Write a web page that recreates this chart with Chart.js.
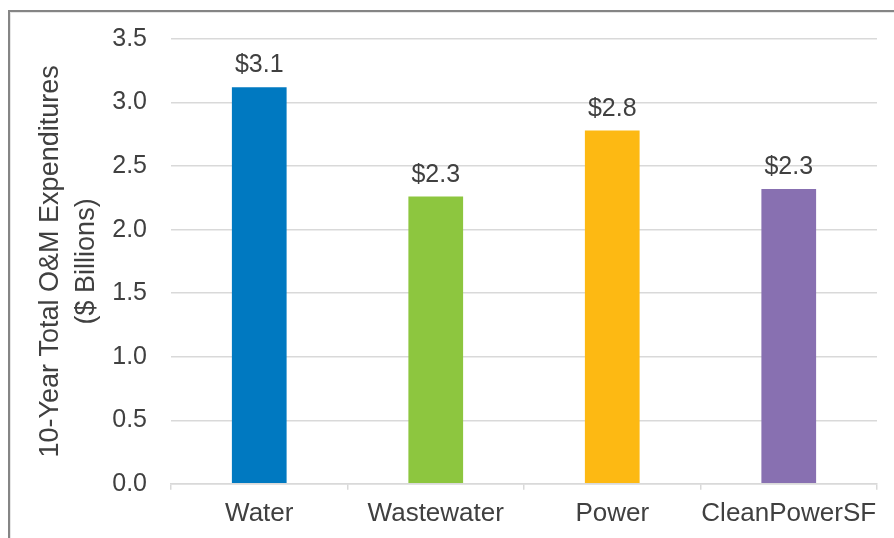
<!DOCTYPE html>
<html>
<head>
<meta charset="utf-8">
<script src="https://cdn.jsdelivr.net/npm/chart.js@4/dist/chart.umd.min.js"></script>
<style>
  html, body { margin: 0; padding: 0; background: #fff; overflow: hidden; }
  #wrap { position: relative; width: 894px; height: 538px; }
  #frame { position: absolute; left: 8px; top: 10px; width: 2000px; height: 2000px;
           border-left: 2px solid #858585; border-top: 2px solid #858585;
           box-shadow: inset 1px 1px 0 #e6e6e6; pointer-events: none; }
  canvas { position: absolute; left: 0; top: 0; }
</style>
</head>
<body>
<div id="wrap">
  <canvas id="c" width="894" height="538"></canvas>
  <div id="frame"></div>
</div>
<script>
const categories = ["Water", "Wastewater", "Power", "CleanPowerSF"];
const values = [3.12, 2.26, 2.78, 2.32];
const valueLabels = ["$3.1", "$2.3", "$2.8", "$2.3"];
const barColors = ["#0079C1", "#8DC63F", "#FDB913", "#8870B1"];
const yTicks = [0, 0.5, 1.0, 1.5, 2.0, 2.5, 3.0, 3.5];
const yTitle = ["10-Year Total O&M Expenditures", "($ Billions)"];

const FONT = "'Liberation Sans', Arial, sans-serif";
const TEXT = "#404040";

const labelPlugin = {
  id: "valueLabels",
  afterDatasetsDraw(chart) {
    const ctx = chart.ctx;
    const meta = chart.getDatasetMeta(0);
    ctx.save();
    ctx.font = "25px " + FONT;
    ctx.fillStyle = TEXT;
    ctx.textAlign = "center";
    ctx.textBaseline = "alphabetic";
    meta.data.forEach((bar, i) => {
      ctx.fillText(valueLabels[i], bar.x, bar.y - 15);
    });
    ctx.restore();
  }
};

new Chart(document.getElementById("c"), {
  type: "bar",
  data: {
    labels: categories,
    datasets: [{
      data: values,
      backgroundColor: barColors,
      borderWidth: 0,
      categoryPercentage: 1,
      barPercentage: 0.31
    }]
  },
  options: {
    responsive: false,
    animation: false,
    devicePixelRatio: 1,
    layout: { padding: { left: 20, right: 17, top: 32, bottom: 1 } },
    plugins: { legend: { display: false }, tooltip: { enabled: false } },
    scales: {
      x: {
        offset: true,
        grid: { offset: true, drawOnChartArea: false, drawTicks: true, tickLength: 6, color: "#d9d9d9", lineWidth: 1.5 },
        border: { display: true, color: "#d9d9d9", width: 1.5 },
        ticks: { color: TEXT, font: { family: FONT, size: 26 }, padding: 8, maxRotation: 0, autoSkip: false }
      },
      y: {
        min: 0, max: 3.5,
        afterBuildTicks(scale) { scale.ticks = yTicks.map(v => ({ value: v })); },
        afterFit(scale) { scale.width = 151; },
        grid: { color: "#d9d9d9", lineWidth: 1.5, drawTicks: false },
        border: { display: false },
        ticks: {
          color: TEXT, font: { family: FONT, size: 25 }, padding: 24,
          callback: v => Number(v).toFixed(1)
        },
        title: {
          display: true, text: yTitle, color: TEXT,
          font: { family: FONT, size: 27, lineHeight: 1.33 }, padding: { top: 13, bottom: 0 }
        }
      }
    }
  },
  plugins: [labelPlugin]
});
</script>
</body>
</html>
